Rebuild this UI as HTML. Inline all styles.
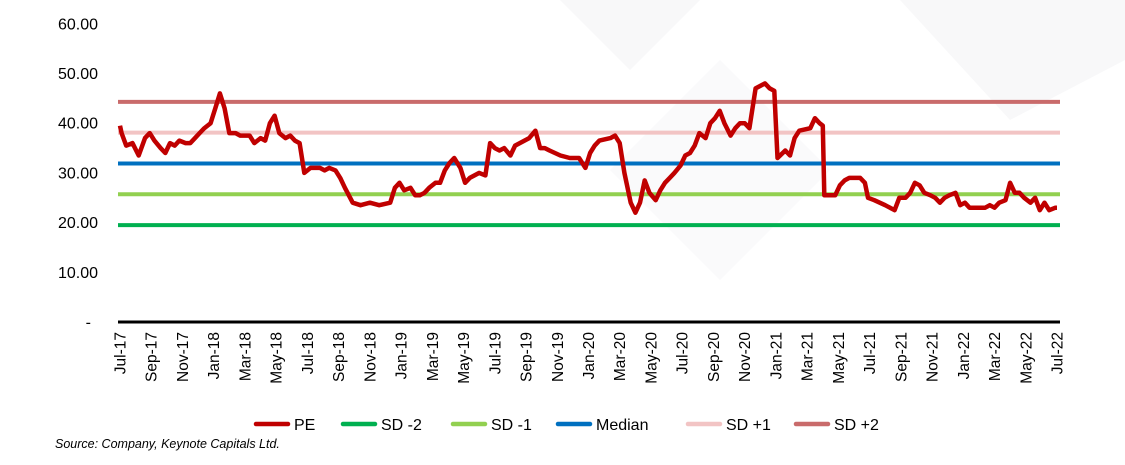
<!DOCTYPE html>
<html><head><meta charset="utf-8"><style>
html,body{margin:0;padding:0;background:#fff;}
svg{display:block;font-family:"Liberation Sans",sans-serif;}
</style></head><body>
<svg id="chart" width="1125" height="465" viewBox="0 0 1125 465" xmlns="http://www.w3.org/2000/svg">
<g fill="#f8f8f9">
<polygon points="560,0 700,0 630,70"/><polygon points="900,0 1125,0 1125,60 1010,120"/><polygon points="720,60 830,170 720,280 610,170" fill="#fafafb"/>
</g>
<g id="yaxis"></g>
<g id="bands"></g>
<path id="pe" fill="none" stroke="#c00000" stroke-width="4.5" stroke-linejoin="round"/>
<line x1="118" y1="322" x2="1060" y2="322" stroke="#000" stroke-width="3"/>
<g id="xaxis"></g>
<g id="legend"></g>
<text x="55" y="448" font-size="12.5" font-style="italic" fill="#000">Source: Company, Keynote Capitals Ltd.</text>
</svg>
<script>
const yTicks=[0,10,20,30,40,50,60];
const yTickLabels=["-","10.00","20.00","30.00","40.00","50.00","60.00"];
const xTickLabels=["Jul-17","Sep-17","Nov-17","Jan-18","Mar-18","May-18","Jul-18","Sep-18","Nov-18","Jan-19","Mar-19","May-19","Jul-19","Sep-19","Nov-19","Jan-20","Mar-20","May-20","Jul-20","Sep-20","Nov-20","Jan-21","Mar-21","May-21","Jul-21","Sep-21","Nov-21","Jan-22","Mar-22","May-22","Jul-22"];
const bandNames=["SD -2","SD -1","Median","SD +1","SD +2"];
const bandValues=[19.5,25.7,31.9,38.1,44.3];
const bandColors=["#00b050","#92d050","#0070c0","#f2c4c4","#c96b6b"];
const peMonths=[0,0.1,0.4,0.8,1.2,1.6,1.9,2.2,2.6,2.9,3.2,3.5,3.8,4.2,4.5,4.8,5.1,5.4,5.8,6.1,6.4,6.7,7.0,7.4,7.7,8.3,8.6,9.0,9.3,9.6,9.9,10.2,10.6,10.9,11.2,11.5,11.8,12.2,12.5,12.8,13.1,13.4,13.8,14.1,14.4,14.9,15.4,16.0,16.6,17.3,17.6,17.9,18.2,18.6,18.9,19.2,19.5,19.8,20.2,20.5,20.8,21.1,21.4,21.8,22.1,22.4,22.7,23.0,23.4,23.7,24.0,24.3,24.6,25.0,25.3,25.6,25.9,26.2,26.6,26.9,27.2,27.5,28.2,28.8,29.4,29.8,30.1,30.4,30.7,31.4,31.7,32.0,32.3,32.7,33.0,33.3,33.6,33.9,34.3,34.6,34.9,35.2,35.5,35.9,36.2,36.5,36.8,37.1,37.5,37.8,38.1,38.4,38.7,39.1,39.4,39.7,40.0,40.3,40.7,41.0,41.3,41.6,41.9,42.1,42.6,42.9,43.2,43.5,44.2,44.5,44.8,45.0,45.1,45.8,46.1,46.4,46.7,47.0,47.4,47.7,47.9,48.3,49.0,49.6,49.9,50.3,50.6,50.9,51.2,51.5,51.9,52.2,52.5,52.8,53.1,53.5,53.8,54.1,54.4,54.7,55.4,55.7,56.0,56.3,56.7,57.0,57.3,57.6,57.9,58.3,58.6,58.9,59.2,59.5,59.9,60];
const peValues=[39.5,38,35.5,36,33.5,37,38,36.5,35,34,36,35.5,36.5,36,36,37,38,39,40,43,46,43,38,38,37.5,37.5,36,37,36.5,40,41.5,38,37,37.5,36.5,36,30,31,31,31,30.5,31,30.5,29,27,24,23.5,24,23.5,24,27,28,26.5,27,25.5,25.5,26,27,28,28,30.5,32,33,31,28,29,29.5,30,29.5,36,35,34.5,35,33.5,35.5,36,36.5,37,38.5,35,35,34.5,33.5,33,33,31,34,35.5,36.5,37,37.5,36,30,24,22,24,28.5,26,24.5,26.5,28,29,30,31.5,33.5,34,35.5,38,37,40,41,42.5,40,37.5,39,40,40,39,47,47.5,48,47,46.5,33,34.5,33.5,37,38.5,39,41,40,39.5,25.5,25.5,27.5,28.5,29,29,29,28,25,24.5,23.5,22.5,25,25,26,28,27.5,26,25.5,25,24,25,25.5,26,23.5,24,23,23,23,23.5,23,24,24.5,28,26,26,25,24,25,22.5,24,22.5,23,23];
const NS="http://www.w3.org/2000/svg";
const x0=120,x1=1057,yBase=322,pxPerUnit=4.97;
function xScale(m){return x0+m*(x1-x0)/60;}
function yScale(v){return yBase-v*pxPerUnit;}
function mk(tag,attrs,parent){const e=document.createElementNS(NS,tag);for(const k in attrs)e.setAttribute(k,attrs[k]);parent.appendChild(e);return e;}
const ya=document.getElementById('yaxis');
yTicks.forEach((v,i)=>{
  const t=mk('text',{x:i===0?91:98,y:yScale(v)+5.5,'text-anchor':'end','font-size':'16',fill:'#000'},ya);
  
  
  t.textContent=yTickLabels[i];
});
const bands=document.getElementById('bands');
bandValues.forEach((v,i)=>{
  const l=mk('line',{x1:118,x2:1060,y1:yScale(v),y2:yScale(v),stroke:bandColors[i],'stroke-width':4},bands);
  
  
});
document.getElementById('pe').setAttribute('d',peMonths.map((m,i)=>(i?'L':'M')+xScale(m).toFixed(1)+','+yScale(peValues[i]).toFixed(1)).join(''));
const xa=document.getElementById('xaxis');
xTickLabels.forEach((s,i)=>{
  const x=xScale(i*2)+5.5,y=332;
  const t=mk('text',{x:x,y:y,'text-anchor':'end','font-size':'15.5',fill:'#000',transform:`rotate(-90 ${x} ${y})`},xa);
  
  
  t.textContent=s;
});
const lg=document.getElementById('legend');
const legNames=["PE"].concat(bandNames);
const legColors=["#c00000"].concat(bandColors);
const legX=[256,343,453,558,688,796];
legNames.forEach((n,i)=>{
  const g=mk('g',{},lg);
  
  
  mk('line',{x1:legX[i],x2:legX[i]+32,y1:424,y2:424,stroke:legColors[i],'stroke-width':4.5,'stroke-linecap':'round'},g);
  const t=mk('text',{x:legX[i]+38,y:430,'font-size':'16',fill:'#000'},g);
  t.textContent=n;
});
</script>
</body></html>
